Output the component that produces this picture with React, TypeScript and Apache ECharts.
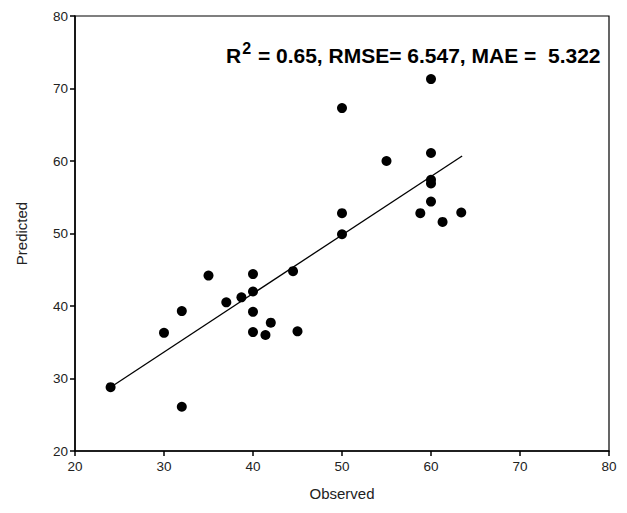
import React, { useEffect, useRef } from "react";
import * as echarts from "echarts";

const observed = [24, 30, 32, 32, 35, 37, 38.7, 40, 40, 40, 40, 41.4, 42, 44.5, 45, 50, 50, 50, 55, 58.8, 60, 60, 60, 60, 60, 61.3, 63.4];
const predicted = [28.8, 36.3, 39.3, 26.1, 44.2, 40.5, 41.2, 44.4, 42.0, 39.2, 36.4, 36.0, 37.7, 44.8, 36.5, 67.3, 52.8, 49.9, 60.0, 52.8, 71.3, 61.1, 57.4, 56.9, 54.4, 51.6, 52.9];
const fitX = [24, 63.5];
const fitY = [28.8, 60.7];
const xTicks = [20, 30, 40, 50, 60, 70, 80];
const yTicks = [20, 30, 40, 50, 60, 70, 80];
const statsLabel = ["R", "2", " = 0.65, RMSE= 6.547, MAE =  5.322"];

const FONT = "Arial, 'Liberation Sans', sans-serif";

export default function App() {
  const ref = useRef<HTMLDivElement>(null);
  useEffect(() => {
    if (!ref.current) return;
    const chart = echarts.init(ref.current, null, { renderer: "svg" });
    const scatter = observed.map((x, i) => [x, predicted[i]]);
    const fit = fitX.map((x, i) => [x, fitY[i]]);
    chart.setOption({
      animation: false,
      backgroundColor: "#ffffff",
      grid: {
        left: 75,
        right: 18,
        top: 16,
        bottom: 62,
        show: true,
        borderColor: "#000",
        borderWidth: 1.2,
      },
      xAxis: {
        type: "value",
        min: xTicks[0],
        max: xTicks[xTicks.length - 1],
        interval: 10,
        name: "Observed",
        nameLocation: "middle",
        nameGap: 35,
        nameTextStyle: { fontFamily: FONT, fontSize: 15, color: "#222" },
        axisLine: { show: true, lineStyle: { color: "#000", width: 1.5 } },
        axisTick: { show: true, inside: false, length: 5, lineStyle: { color: "#000", width: 1.5 } },
        axisLabel: { fontFamily: FONT, fontSize: 13.5, color: "#222", margin: 8 },
        splitLine: { show: false },
      },
      yAxis: {
        type: "value",
        min: yTicks[0],
        max: yTicks[yTicks.length - 1],
        interval: 10,
        name: "Predicted",
        nameLocation: "middle",
        nameGap: 46,
        nameTextStyle: { fontFamily: FONT, fontSize: 15, color: "#222" },
        axisLine: { show: true, lineStyle: { color: "#000", width: 1.5 } },
        axisTick: { show: true, inside: false, length: 5, lineStyle: { color: "#000", width: 1.5 } },
        axisLabel: { fontFamily: FONT, fontSize: 13.5, color: "#222", margin: 7 },
        splitLine: { show: false },
      },
      series: [
        {
          type: "line",
          data: fit,
          symbol: "none",
          lineStyle: { color: "#000", width: 1.3 },
          z: 2,
        },
        {
          type: "scatter",
          data: scatter,
          symbol: "circle",
          symbolSize: 10,
          itemStyle: { color: "#000", opacity: 1 },
          z: 3,
        },
      ],
      graphic: [
        {
          type: "text",
          left: 226,
          top: 40,
          style: {
            text: `{b|${statsLabel[0]}}{s|${statsLabel[1]}}{b|${statsLabel[2]}}`,
            rich: {
              b: { fontFamily: FONT, fontSize: 21, fontWeight: "bold", fill: "#000", lineHeight: 26, verticalAlign: "bottom" },
              s: { fontFamily: FONT, fontSize: 16, fontWeight: "bold", fill: "#000", lineHeight: 26, verticalAlign: "top", padding: [0, 1, 0, 1] },
            },
          },
        },
      ],
    });
    return () => chart.dispose();
  }, []);
  return (
    <div
      ref={ref}
      style={{ position: "fixed", left: 0, top: 0, width: 627, height: 513, background: "#fff" }}
    />
  );
}
